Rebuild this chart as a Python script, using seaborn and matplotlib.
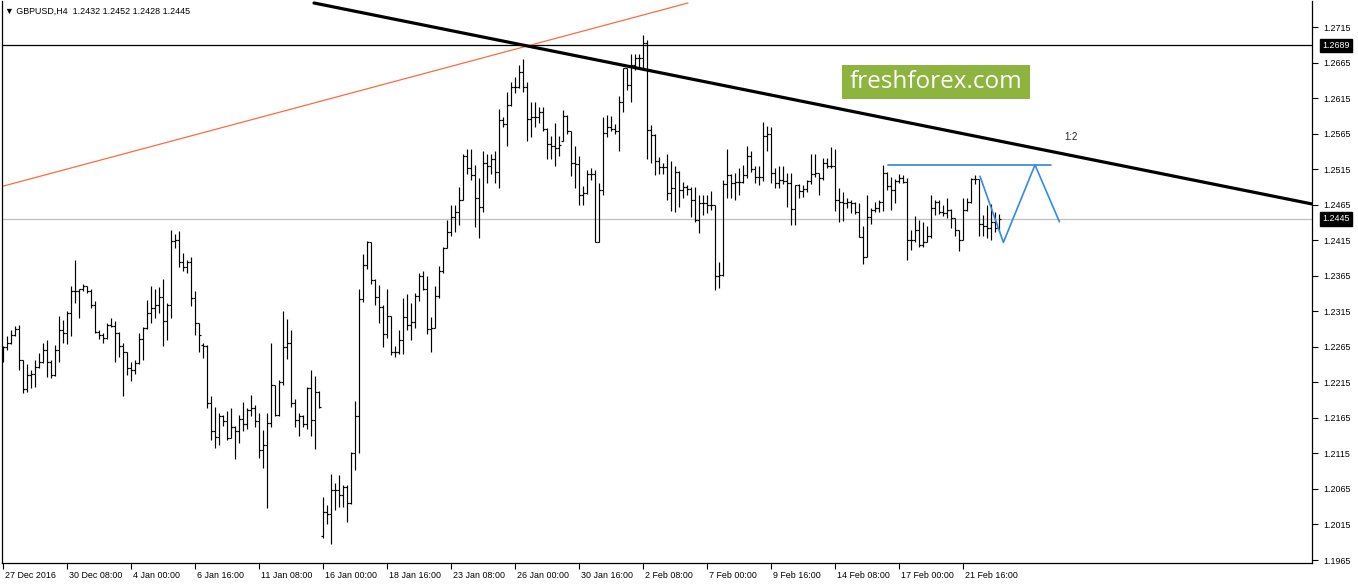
import matplotlib
matplotlib.use('Agg')
import matplotlib.pyplot as plt
import matplotlib.transforms as mtransforms
from matplotlib.patches import Rectangle
import seaborn as sns
import numpy as np
import pandas as pd

# GBPUSD H4 bars
opens = [
    1.2255, 1.2265, 1.2271, 1.2282, 1.2290, 1.2246, 1.2205, 1.2225, 1.2227, 1.2237,
    1.2243, 1.2260, 1.2244, 1.2225, 1.2261, 1.2289, 1.2284, 1.2313, 1.2343, 1.2343,
    1.2346, 1.2351, 1.2343, 1.2324, 1.2286, 1.2282, 1.2277, 1.2296, 1.2294, 1.2285,
    1.2266, 1.2258, 1.2235, 1.2232, 1.2242, 1.2276, 1.2291, 1.2313, 1.2319, 1.2324,
    1.2335, 1.2302, 1.2324, 1.2414, 1.2415, 1.2384, 1.2377, 1.2385, 1.2333, 1.2298,
    1.2268, 1.2266, 1.2186, 1.2146, 1.2138, 1.2168, 1.2160, 1.2136, 1.2152, 1.2146,
    1.2164, 1.2157, 1.2176, 1.2179, 1.2160, 1.2120, 1.2127, 1.2158, 1.2211, 1.2169,
    1.2215, 1.2265, 1.2271, 1.2186, 1.2162, 1.2168, 1.2157, 1.2207, 1.2162, 1.2202,
    1.1999, 1.2033, 1.2030, 1.2063, 1.2063, 1.2056, 1.2068, 1.2045, 1.2115, 1.2168,
    1.2332, 1.2380, 1.2412, 1.2359, 1.2335, 1.2321, 1.2283, 1.2308, 1.2258, 1.2258,
    1.2275, 1.2307, 1.2296, 1.2300, 1.2337, 1.2364, 1.2347, 1.2290, 1.2292, 1.2336,
    1.2371, 1.2404, 1.2426, 1.2448, 1.2454, 1.2472, 1.2534, 1.2517, 1.2507, 1.2475,
    1.2462, 1.2524, 1.2519, 1.2529, 1.2511, 1.2584, 1.2579, 1.2605, 1.2631, 1.2630,
    1.2652, 1.2630, 1.2585, 1.2588, 1.2588, 1.2596, 1.2572, 1.2550, 1.2547, 1.2545,
    1.2555, 1.2590, 1.2568, 1.2524, 1.2522, 1.2478, 1.2482, 1.2508, 1.2508, 1.2413,
    1.2486, 1.2566, 1.2575, 1.2572, 1.2568, 1.2609, 1.2657, 1.2634, 1.2662, 1.2671,
    1.2671, 1.2692, 1.2570, 1.2563, 1.2526, 1.2518, 1.2518, 1.2481, 1.2489, 1.2511,
    1.2486, 1.2490, 1.2487, 1.2472, 1.2443, 1.2468, 1.2467, 1.2464, 1.2465, 1.2365,
    1.2366, 1.2494, 1.2507, 1.2495, 1.2497, 1.2497, 1.2507, 1.2533, 1.2515, 1.2504,
    1.2504, 1.2561, 1.2564, 1.2510, 1.2495, 1.2500, 1.2498, 1.2495, 1.2459, 1.2493,
    1.2484, 1.2487, 1.2498, 1.2508, 1.2509, 1.2502, 1.2523, 1.2520, 1.2519, 1.2471,
    1.2469, 1.2467, 1.2469, 1.2467, 1.2454, 1.2419, 1.2391, 1.2448, 1.2458, 1.2460,
    1.2469, 1.2509, 1.2491, 1.2486, 1.2498, 1.2502, 1.2497, 1.2415, 1.2415, 1.2429,
    1.2408, 1.2413, 1.2421, 1.2460, 1.2469, 1.2454, 1.2453, 1.2458, 1.2446, 1.2429,
    1.2415, 1.2458, 1.2469, 1.2501, 1.2501, 1.2438, 1.2435, 1.2432, 1.2441, 1.2432,
]
highs = [
    1.2266, 1.2280, 1.2288, 1.2294, 1.2296, 1.2246, 1.2241, 1.2233, 1.2246, 1.2256,
    1.2271, 1.2274, 1.2246, 1.2268, 1.2308, 1.2303, 1.2316, 1.2350, 1.2387, 1.2347,
    1.2353, 1.2351, 1.2346, 1.2330, 1.2289, 1.2285, 1.2298, 1.2305, 1.2301, 1.2286,
    1.2271, 1.2258, 1.2244, 1.2246, 1.2284, 1.2293, 1.2331, 1.2350, 1.2347, 1.2349,
    1.2360, 1.2326, 1.2429, 1.2424, 1.2428, 1.2397, 1.2387, 1.2392, 1.2344, 1.2298,
    1.2270, 1.2268, 1.2196, 1.2180, 1.2172, 1.2169, 1.2174, 1.2179, 1.2154, 1.2169,
    1.2188, 1.2179, 1.2197, 1.2183, 1.2172, 1.2148, 1.2172, 1.2271, 1.2211, 1.2218,
    1.2316, 1.2304, 1.2289, 1.2191, 1.2172, 1.2169, 1.2209, 1.2232, 1.2224, 1.2203,
    1.2054, 1.2043, 1.2086, 1.2073, 1.2085, 1.2071, 1.2070, 1.2117, 1.2189, 1.2347,
    1.2396, 1.2414, 1.2413, 1.2360, 1.2352, 1.2324, 1.2347, 1.2309, 1.2266, 1.2289,
    1.2333, 1.2340, 1.2326, 1.2341, 1.2369, 1.2371, 1.2365, 1.2307, 1.2350, 1.2379,
    1.2406, 1.2443, 1.2465, 1.2465, 1.2490, 1.2536, 1.2543, 1.2543, 1.2521, 1.2502,
    1.2541, 1.2537, 1.2536, 1.2540, 1.2599, 1.2588, 1.2624, 1.2637, 1.2645, 1.2662,
    1.2670, 1.2637, 1.2610, 1.2609, 1.2603, 1.2602, 1.2573, 1.2561, 1.2580, 1.2562,
    1.2598, 1.2591, 1.2569, 1.2547, 1.2534, 1.2491, 1.2514, 1.2516, 1.2514, 1.2495,
    1.2588, 1.2591, 1.2590, 1.2579, 1.2618, 1.2658, 1.2657, 1.2677, 1.2677, 1.2677,
    1.2704, 1.2697, 1.2577, 1.2564, 1.2532, 1.2524, 1.2536, 1.2526, 1.2520, 1.2512,
    1.2497, 1.2493, 1.2490, 1.2490, 1.2479, 1.2478, 1.2478, 1.2484, 1.2465, 1.2385,
    1.2500, 1.2544, 1.2508, 1.2510, 1.2517, 1.2521, 1.2548, 1.2540, 1.2520, 1.2520,
    1.2582, 1.2576, 1.2575, 1.2517, 1.2519, 1.2519, 1.2509, 1.2509, 1.2492, 1.2494,
    1.2493, 1.2500, 1.2536, 1.2536, 1.2509, 1.2530, 1.2530, 1.2546, 1.2544, 1.2489,
    1.2483, 1.2474, 1.2472, 1.2469, 1.2468, 1.2435, 1.2479, 1.2461, 1.2469, 1.2471,
    1.2521, 1.2511, 1.2504, 1.2501, 1.2508, 1.2507, 1.2502, 1.2430, 1.2449, 1.2443,
    1.2440, 1.2435, 1.2479, 1.2472, 1.2471, 1.2464, 1.2475, 1.2459, 1.2446, 1.2430,
    1.2475, 1.2475, 1.2502, 1.2507, 1.2501, 1.2450, 1.2464, 1.2466, 1.2454, 1.2452,
]
lows = [
    1.2243, 1.2261, 1.2269, 1.2280, 1.2232, 1.2200, 1.2202, 1.2207, 1.2209, 1.2235,
    1.2242, 1.2223, 1.2221, 1.2224, 1.2244, 1.2271, 1.2269, 1.2280, 1.2326, 1.2305,
    1.2344, 1.2341, 1.2319, 1.2284, 1.2276, 1.2271, 1.2276, 1.2293, 1.2244, 1.2251,
    1.2196, 1.2225, 1.2217, 1.2227, 1.2241, 1.2246, 1.2290, 1.2299, 1.2305, 1.2312,
    1.2266, 1.2274, 1.2305, 1.2404, 1.2378, 1.2371, 1.2369, 1.2322, 1.2282, 1.2257,
    1.2249, 1.2179, 1.2134, 1.2123, 1.2127, 1.2153, 1.2134, 1.2136, 1.2107, 1.2130,
    1.2147, 1.2150, 1.2168, 1.2152, 1.2109, 1.2094, 1.2038, 1.2152, 1.2167, 1.2167,
    1.2211, 1.2248, 1.2181, 1.2152, 1.2139, 1.2152, 1.2149, 1.2139, 1.2121, 1.2179,
    1.1996, 1.2016, 1.1988, 1.2035, 1.2039, 1.2039, 1.2018, 1.2044, 1.2091, 1.2116,
    1.2328, 1.2374, 1.2354, 1.2324, 1.2299, 1.2265, 1.2277, 1.2254, 1.2251, 1.2255,
    1.2255, 1.2288, 1.2275, 1.2291, 1.2330, 1.2345, 1.2283, 1.2258, 1.2291, 1.2333,
    1.2369, 1.2404, 1.2421, 1.2427, 1.2436, 1.2472, 1.2508, 1.2500, 1.2434, 1.2418,
    1.2455, 1.2495, 1.2508, 1.2495, 1.2489, 1.2575, 1.2547, 1.2604, 1.2622, 1.2629,
    1.2623, 1.2554, 1.2560, 1.2574, 1.2580, 1.2568, 1.2529, 1.2529, 1.2519, 1.2534,
    1.2554, 1.2565, 1.2505, 1.2488, 1.2465, 1.2465, 1.2480, 1.2500, 1.2412, 1.2412,
    1.2479, 1.2560, 1.2568, 1.2565, 1.2540, 1.2596, 1.2626, 1.2610, 1.2655, 1.2658,
    1.2655, 1.2529, 1.2523, 1.2507, 1.2508, 1.2508, 1.2472, 1.2456, 1.2455, 1.2462,
    1.2475, 1.2479, 1.2447, 1.2441, 1.2425, 1.2450, 1.2453, 1.2457, 1.2345, 1.2348,
    1.2365, 1.2475, 1.2475, 1.2472, 1.2478, 1.2495, 1.2503, 1.2511, 1.2495, 1.2493,
    1.2498, 1.2540, 1.2496, 1.2488, 1.2489, 1.2494, 1.2462, 1.2437, 1.2436, 1.2475,
    1.2476, 1.2483, 1.2494, 1.2504, 1.2478, 1.2500, 1.2517, 1.2516, 1.2456, 1.2441,
    1.2442, 1.2461, 1.2453, 1.2452, 1.2419, 1.2381, 1.2391, 1.2438, 1.2454, 1.2455,
    1.2456, 1.2485, 1.2458, 1.2468, 1.2495, 1.2495, 1.2387, 1.2401, 1.2412, 1.2405,
    1.2406, 1.2412, 1.2418, 1.2450, 1.2452, 1.2449, 1.2446, 1.2432, 1.2421, 1.2400,
    1.2416, 1.2456, 1.2468, 1.2494, 1.2421, 1.2421, 1.2418, 1.2416, 1.2426, 1.2428,
]
closes = [
    1.2265, 1.2271, 1.2282, 1.2290, 1.2246, 1.2205, 1.2225, 1.2227, 1.2237, 1.2243,
    1.2260, 1.2244, 1.2225, 1.2261, 1.2289, 1.2284, 1.2313, 1.2343, 1.2343, 1.2346,
    1.2351, 1.2343, 1.2324, 1.2286, 1.2282, 1.2277, 1.2296, 1.2294, 1.2285, 1.2266,
    1.2258, 1.2235, 1.2232, 1.2242, 1.2276, 1.2291, 1.2313, 1.2319, 1.2324, 1.2335,
    1.2302, 1.2324, 1.2414, 1.2415, 1.2384, 1.2377, 1.2385, 1.2333, 1.2298, 1.2282,
    1.2266, 1.2186, 1.2146, 1.2138, 1.2168, 1.2160, 1.2136, 1.2152, 1.2146, 1.2164,
    1.2157, 1.2176, 1.2179, 1.2160, 1.2120, 1.2127, 1.2158, 1.2211, 1.2169, 1.2215,
    1.2265, 1.2271, 1.2186, 1.2162, 1.2168, 1.2157, 1.2207, 1.2162, 1.2202, 1.2180,
    1.2033, 1.2030, 1.2063, 1.2063, 1.2056, 1.2068, 1.2045, 1.2115, 1.2168, 1.2332,
    1.2380, 1.2412, 1.2359, 1.2335, 1.2321, 1.2283, 1.2308, 1.2258, 1.2258, 1.2275,
    1.2307, 1.2296, 1.2300, 1.2337, 1.2364, 1.2347, 1.2290, 1.2292, 1.2336, 1.2371,
    1.2404, 1.2426, 1.2448, 1.2454, 1.2472, 1.2534, 1.2517, 1.2507, 1.2475, 1.2462,
    1.2524, 1.2519, 1.2529, 1.2511, 1.2584, 1.2579, 1.2605, 1.2631, 1.2630, 1.2652,
    1.2630, 1.2585, 1.2588, 1.2588, 1.2596, 1.2572, 1.2550, 1.2547, 1.2545, 1.2549,
    1.2590, 1.2568, 1.2524, 1.2522, 1.2478, 1.2482, 1.2508, 1.2508, 1.2413, 1.2486,
    1.2566, 1.2575, 1.2572, 1.2568, 1.2609, 1.2657, 1.2634, 1.2662, 1.2671, 1.2671,
    1.2692, 1.2570, 1.2563, 1.2526, 1.2518, 1.2518, 1.2481, 1.2489, 1.2511, 1.2486,
    1.2490, 1.2487, 1.2472, 1.2443, 1.2468, 1.2467, 1.2464, 1.2465, 1.2365, 1.2366,
    1.2494, 1.2507, 1.2495, 1.2497, 1.2497, 1.2507, 1.2533, 1.2515, 1.2504, 1.2504,
    1.2561, 1.2564, 1.2510, 1.2495, 1.2500, 1.2498, 1.2495, 1.2459, 1.2493, 1.2484,
    1.2487, 1.2498, 1.2508, 1.2509, 1.2502, 1.2523, 1.2520, 1.2519, 1.2471, 1.2469,
    1.2467, 1.2469, 1.2467, 1.2454, 1.2419, 1.2391, 1.2448, 1.2458, 1.2460, 1.2469,
    1.2509, 1.2491, 1.2486, 1.2498, 1.2502, 1.2497, 1.2415, 1.2415, 1.2429, 1.2408,
    1.2413, 1.2421, 1.2460, 1.2469, 1.2454, 1.2453, 1.2458, 1.2446, 1.2429, 1.2415,
    1.2458, 1.2469, 1.2501, 1.2501, 1.2438, 1.2435, 1.2432, 1.2441, 1.2432, 1.2445,
]

xtick_bars = [0, 16, 32, 48, 64, 80, 96, 112, 128, 144, 160, 176, 192, 208, 224, 240]
xtick_labels = ['27 Dec 2016', '30 Dec 08:00', '4 Jan 00:00', '6 Jan 16:00',
                '11 Jan 08:00', '16 Jan 00:00', '18 Jan 16:00', '23 Jan 08:00',
                '26 Jan 00:00', '30 Jan 16:00', '2 Feb 08:00', '7 Feb 00:00',
                '9 Feb 16:00', '14 Feb 08:00', '17 Feb 00:00', '21 Feb 16:00']
ytick_values = [1.1965, 1.2015, 1.2065, 1.2115, 1.2165, 1.2215, 1.2265, 1.2315,
                1.2365, 1.2415, 1.2465, 1.2515, 1.2565, 1.2615, 1.2665, 1.2715]

# drawn objects (anchor points in bar index / price)
trend_x = [77.75, 327.25]
trend_y = [1.27488, 1.24660]
fan_x = [-0.75, 171.25]
fan_y = [1.24899, 1.27488]
level_high = 1.2689
level_bid = 1.2445
target_x = [221.2, 261.9]
target_y = [1.2521, 1.2521]
zigzag_x = [244.25, 250.1, 258.0, 264.1]
zigzag_y = [1.2505, 1.2412, 1.2521, 1.2441]

df = pd.DataFrame({'bar': np.arange(len(closes)), 'open': opens,
                   'high': highs, 'low': lows, 'close': closes})

sns.set_style('white')
plt.rcParams['font.family'] = ['Liberation Sans', 'DejaVu Sans']

W, H = 1358, 584
fig = plt.figure(figsize=(W / 100, H / 100), dpi=100)
ax = fig.add_axes([2 / W, 21 / H, 1310 / W, 562 / H])

# OHLC bars
ax.vlines(df['bar'], df['low'], df['high'], color='black', lw=0.85)
ax.hlines(df['open'], df['bar'] - 0.45, df['bar'], color='black', lw=0.85)
ax.hlines(df['close'], df['bar'], df['bar'] + 0.45, color='black', lw=0.85)

# lines
ax.axhline(level_bid, color='#c0c0c0', lw=0.9, zorder=0)
ax.axhline(level_high, color='black', lw=0.9)
sns.lineplot(x=fan_x, y=fan_y, color='#ff6a3d', lw=0.9, ax=ax)
sns.lineplot(x=trend_x, y=trend_y, color='black', lw=2.3, ax=ax)
ax.plot(target_x, target_y, color='#2f86d6', lw=1.2)
sns.lineplot(x=zigzag_x, y=zigzag_y, color='#2f8be6', lw=1.2, sort=False, ax=ax)
ax.text(265.3, 1.2560, '1:2', fontsize=7, ha='left', va='center', color='#222222')

ax.set_xlim(-0.25, 327.25)
ax.set_ylim(1.19608, 1.27516)

for s in ax.spines.values():
    s.set_color('black')
    s.set_linewidth(0.9)
ax.spines['top'].set_visible(False)

ax.yaxis.tick_right()
ax.set_yticks(ytick_values)
ax.set_yticklabels([f'{v:.4f}' for v in ytick_values])
ax.tick_params(axis='y', direction='out', length=4, width=0.8, pad=4,
               labelsize=6.4, colors='black', right=True, left=False)
ax.set_xticks(xtick_bars)
ax.set_xticklabels(xtick_labels)
ax.tick_params(axis='x', direction='out', length=4, width=0.8, pad=2,
               labelsize=6.4, colors='black', bottom=True)
offset = mtransforms.ScaledTranslation(2 / 100, 0, fig.dpi_scale_trans)
for lbl in ax.get_xticklabels():
    lbl.set_horizontalalignment('left')
    lbl.set_transform(lbl.get_transform() + offset)
ax.set_xlabel('')
ax.set_ylabel('')

# price tags on the axis
for v in [level_high, level_bid]:
    ax.annotate(f'{v:.4f}', xy=(1, v), xycoords=('axes fraction', 'data'),
                xytext=(7.5, 0), textcoords='offset points', ha='left', va='center',
                color='white', fontsize=6.4,
                bbox=dict(boxstyle='square,pad=0.25', fc='black', ec='black'))

# header
fig.text(5 / W, 1 - 11 / H, '\u25bc GBPUSD,H4  1.2432 1.2452 1.2428 1.2445',
         fontsize=6.4, va='center', ha='left', color='black')

# logo
fig.patches.append(Rectangle((842 / W, 1 - 99 / H), 188 / W, 34 / H,
                             transform=fig.transFigure, fc='#8db43e', ec='none'))
fig.text(936 / W, 1 - 82 / H, 'freshforex.com', fontsize=17.5, color='white',
         ha='center', va='center', family=['Open Sans', 'DejaVu Sans'])

fig.savefig('out.png', dpi=100)
